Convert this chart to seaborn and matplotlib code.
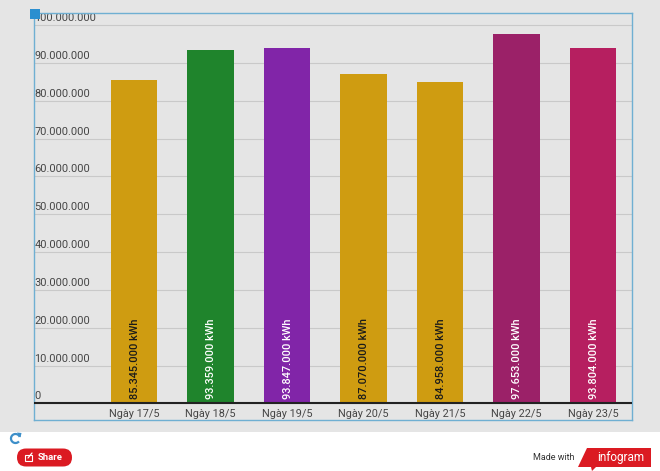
import matplotlib
matplotlib.use("Agg")
import matplotlib.pyplot as plt
from matplotlib.patches import Rectangle, FancyBboxPatch, Polygon, Arc
from matplotlib.transforms import ScaledTranslation
import pandas as pd
import seaborn as sns

days = ["Ngày 17/5", "Ngày 18/5", "Ngày 19/5", "Ngày 20/5", "Ngày 21/5", "Ngày 22/5", "Ngày 23/5"]
values = [85345000, 93359000, 93847000, 87070000, 84958000, 97653000, 93804000]
colors = ["#CF9C11", "#1F842C", "#8125A8", "#CF9C11", "#CF9C11", "#9B2168", "#B61F60"]
label_colors = ["#1a1a1a", "white", "white", "#1a1a1a", "#1a1a1a", "white", "white"]
yticks = list(range(0, 100000001, 10000000))
ytick_labels = ["0", "10.000.000", "20.000.000", "30.000.000", "40.000.000", "50.000.000",
                "60.000.000", "70.000.000", "80.000.000", "90.000.000", "100.000.000"]

W, H = 660, 471
sns.set_theme(style="whitegrid")
plt.rcParams["font.family"] = ["Roboto", "DejaVu Sans"]

fig = plt.figure(figsize=(W / 100, H / 100), dpi=100, facecolor="white")

# grey panel behind the chart
fig.add_artist(Rectangle((0, (H - 432) / H), 1, 432 / H, transform=fig.transFigure,
                         facecolor="#E5E5E5", edgecolor="none", zorder=-5))

ax = fig.add_axes([34 / W, (H - 420) / H, 598 / W, 407 / H])
ax.set_facecolor("none")

df = pd.DataFrame({"day": days, "kwh": values})
sns.barplot(data=df, x="day", y="kwh", hue="day", palette=colors, width=0.61,
            saturation=1, legend=False, linewidth=0, ax=ax, zorder=3)

ax.set_xlim(-1.307, 6.51)
ax.set_ylim(-4360000, 103170000)
ax.set_xlabel("")
ax.set_ylabel("")
ax.set_yticks(yticks)
ax.set_yticklabels(ytick_labels)
ax.grid(False)
ax.grid(axis="y", color="#C9C9C9", linewidth=0.8, zorder=1)
ax.axhline(0, color="#222222", linewidth=1.5, zorder=4)

ax.tick_params(axis="y", length=0, pad=-0.2, labelsize=7.9, labelcolor="#454545")
ax.tick_params(axis="x", length=0, pad=-8, labelsize=7.8, labelcolor="#454545")
up = ScaledTranslation(0, 2 / 100, fig.dpi_scale_trans)
for lab in ax.get_yticklabels():
    lab.set_ha("left")
    lab.set_va("bottom")
    lab.set_zorder(5)
    lab.set_transform(lab.get_transform() + up)

for spine in ax.spines.values():
    spine.set_visible(True)
    spine.set_color("#6FAFD2")
    spine.set_linewidth(1)

for i, v in enumerate(values):
    txt = f"{v:,}".replace(",", ".") + " kWh"
    ax.text(i + 0.01, 1200000, txt, rotation=90, ha="center", va="bottom", fontsize=7.9,
            fontweight="medium", color=label_colors[i], zorder=6)

# overlay in pixel coordinates: selection handle, reload icon, share button, logo
ov = fig.add_axes([0, 0, 1, 1], facecolor="none")
ov.set_xlim(0, W)
ov.set_ylim(H, 0)
ov.axis("off")
ov.add_patch(Rectangle((29.5, 8.5), 10, 10, facecolor="#2B8FD0", edgecolor="none"))
ov.add_patch(Arc((15.5, 438.5), 9, 9, theta1=40, theta2=340, color="#3D8FC9", linewidth=1.6))
ov.add_patch(Polygon([[17, 432.5], [21.5, 433], [20.5, 437.5]], facecolor="#3D8FC9", edgecolor="none"))

ov.add_patch(FancyBboxPatch((17, 448.5), 55, 18, boxstyle="round,pad=0,rounding_size=9",
                            facecolor="#DB1A22", edgecolor="none"))
ov.add_patch(Rectangle((25, 455), 7, 6, facecolor="none", edgecolor="white", linewidth=0.8))
ov.plot([28, 32], [458, 453], color="white", linewidth=0.9)
ov.text(38, 457.5, "Share", fontsize=6.8, fontweight="bold", color="white", ha="left", va="center")

ov.text(533, 457, "Made with", fontsize=6.5, color="#333333", ha="left", va="center")
ov.add_patch(Polygon([[587, 448], [651, 448], [651, 467], [596, 467], [592, 471], [591, 467], [578, 467]],
                     facecolor="#DB1A22", edgecolor="none"))
ov.text(597, 457, "infogram", fontsize=8.5, color="white", ha="left", va="center", stretch="condensed")

fig.savefig("out.png", dpi=100)
